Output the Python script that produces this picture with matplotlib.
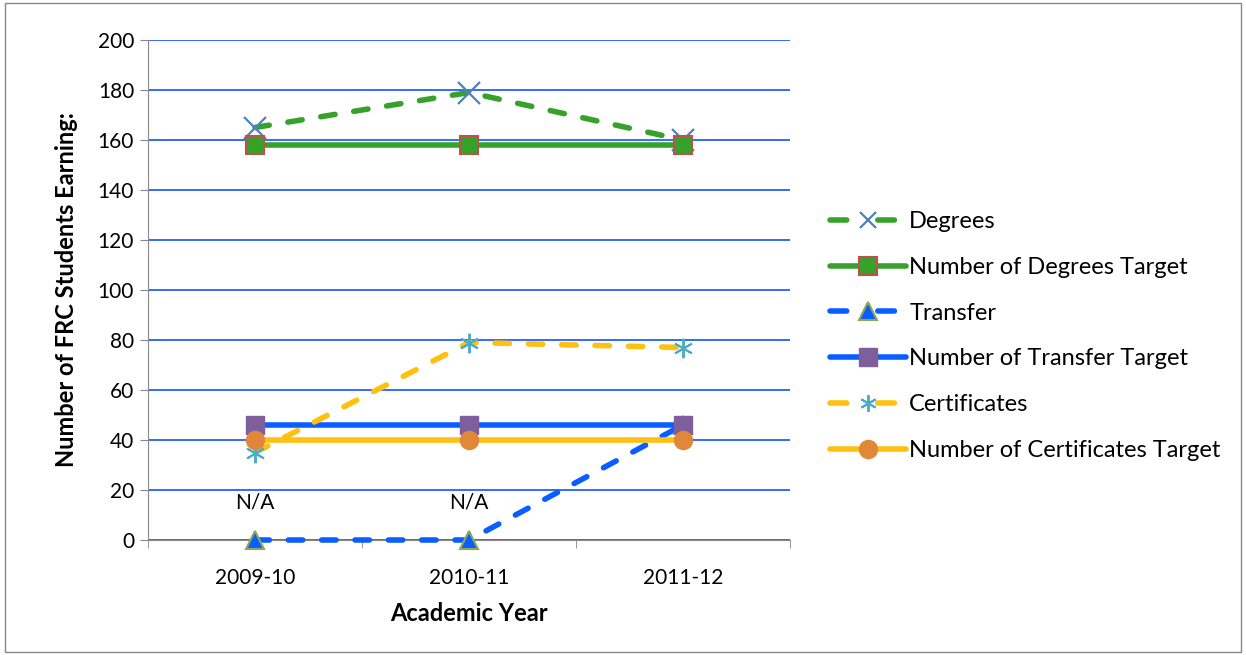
import matplotlib
matplotlib.use("Agg")
import matplotlib.pyplot as plt
from matplotlib.patches import Rectangle
from matplotlib.lines import Line2D

plt.rcParams['font.family'] = ['Lato', 'DejaVu Sans']

years = ["2009-10", "2010-11", "2011-12"]
degrees = [165, 179, 160]
degrees_target = [158, 158, 158]
transfer = [0, 0, 46]
transfer_target = [46, 46, 46]
certificates = [35, 79, 77]
certificates_target = [40, 40, 40]
na_labels = ["N/A", "N/A", ""]
na_y = 15

fig = plt.figure(figsize=(12.46, 6.55), dpi=100)
fig.patches.append(Rectangle((0.004, 0.004), 0.992, 0.992, transform=fig.transFigure,
                             fill=False, edgecolor='#888888', linewidth=1))
ax = fig.add_axes([148/1246, 115/655, 642/1246, 500/655])
x = list(range(len(years)))

ax.set_ylim(0, 200)
ax.set_xlim(-0.5, 2.5)
ax.set_yticks(range(0, 201, 20))
ax.yaxis.grid(True, color='#1050FF', linewidth=1.2)
ax.set_axisbelow(True)

dash = (0, (2.6, 3.4))
styles = [
    dict(color='#36A22A', ls='dash', marker='x', ms=16, lms=12, mfc='none', mec='#4F81BD', mew=1.6),
    dict(color='#36A22A', ls='-', marker='s', ms=13, lms=13, mfc='#36A22A', mec='#C0504D', mew=1.5),
    dict(color='#0A5EFF', ls='dash', marker='^', ms=13, lms=13, mfc='#0A5EFF', mec='#8DA854', mew=1.5),
    dict(color='#0A5EFF', ls='-', marker='s', ms=13, lms=13, mfc='#7F5F9B', mec='#7F5F9B', mew=1.0),
    dict(color='#FFC010', ls='dash', marker=(6, 2, 0), ms=14, lms=12, mfc='none', mec='#4BACC6', mew=1.4),
    dict(color='#FFC010', ls='-', marker='o', ms=13, lms=13, mfc='#E0873A', mec='#E0873A', mew=1.0),
]
names = ['Degrees', 'Number of Degrees Target', 'Transfer', 'Number of Transfer Target',
         'Certificates', 'Number of Certificates Target']
series = [degrees, degrees_target, transfer, transfer_target, certificates, certificates_target]

handles = []
for i, (vals, st, nm) in enumerate(zip(series, styles, names)):
    ls = dash if st['ls'] == 'dash' else '-'
    ax.plot(x, vals, color=st['color'], lw=4, ls=ls, marker=st['marker'], ms=st['ms'],
            mfc=st['mfc'], mec=st['mec'], mew=st['mew'], zorder=3 + i, clip_on=False,
            dash_capstyle='round')
    hls = (0, (3.0, 5.6)) if st['ls'] == 'dash' else '-'
    handles.append(Line2D([], [], color=st['color'], lw=4, ls=hls, marker=st['marker'],
                          ms=st['lms'], mfc=st['mfc'], mec=st['mec'], mew=st['mew'],
                          dash_capstyle='round', solid_capstyle='round'))

for xi, t in zip(x, na_labels):
    if t:
        ax.text(xi, na_y, t, ha='center', va='center', fontsize=15)

ax.set_xticks(x)
ax.set_xticklabels(years, fontsize=15)
ax.set_xticks([-0.5, 0.5, 1.5, 2.5], minor=True)
ax.tick_params(axis='x', which='major', length=0, pad=20)
ax.tick_params(axis='x', which='minor', length=6, color='#888888', direction='out')
ax.tick_params(axis='y', labelsize=15, length=6, color='#888888', direction='out', pad=4)
for s in ['top', 'right']:
    ax.spines[s].set_visible(False)
ax.spines['left'].set_color('#888888')
ax.spines['bottom'].set_color('#888888')

ax.set_xlabel('Academic Year', fontsize=17, fontweight='bold', labelpad=10)
ax.set_ylabel('Number of FRC Students Earning:', fontsize=17, fontweight='bold', labelpad=14)

fig.legend(handles, names, loc='center left', bbox_to_anchor=(809/1246, (655-336)/655),
           frameon=False, fontsize=17, handlelength=3.2, labelspacing=1.05, handletextpad=0.15)

fig.savefig('out.png', dpi=100)
